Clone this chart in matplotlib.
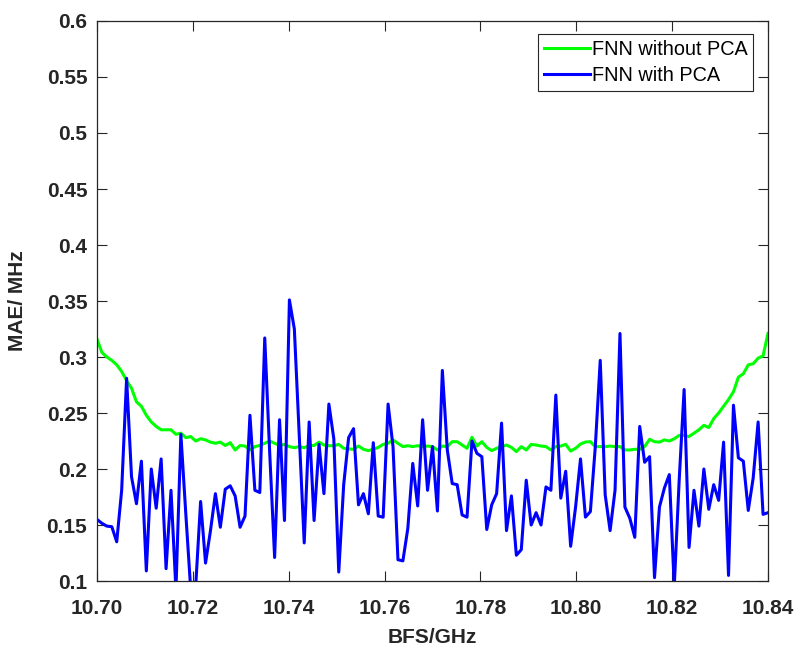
import numpy as np
import matplotlib
matplotlib.use("Agg")
import matplotlib.pyplot as plt

plt.rcParams["font.family"] = ["Liberation Sans", "DejaVu Sans"]

# === DATA ===
mae_no_pca = [
    0.316, 0.304, 0.300, 0.297, 0.293, 0.287, 0.279, 0.272, 0.260, 0.256, 0.248, 0.242,
    0.238, 0.235, 0.235, 0.235, 0.231, 0.232, 0.228, 0.229, 0.225, 0.227, 0.226,
    0.224, 0.223, 0.224, 0.221, 0.2235, 0.217, 0.221, 0.2205, 0.217, 0.220, 0.221, 0.223,
    0.225, 0.223, 0.221, 0.222, 0.220, 0.219, 0.220, 0.219, 0.221, 0.221, 0.224,
    0.2214, 0.2208, 0.2208, 0.222, 0.2185, 0.218, 0.2176, 0.2205, 0.2176, 0.2164, 0.2176,
    0.2193, 0.222, 0.223, 0.2259, 0.223, 0.220, 0.2208, 0.220, 0.2208, 0.220, 0.2205, 0.220,
    0.217, 0.2205, 0.220, 0.2244, 0.2244, 0.2214, 0.2185, 0.2283, 0.2205, 0.2244, 0.2193,
    0.2164, 0.2185, 0.220, 0.2214, 0.2193, 0.2155, 0.220, 0.217, 0.222, 0.2214, 0.2205,
    0.220, 0.217, 0.220, 0.2205, 0.222, 0.216, 0.2185, 0.2223, 0.2241, 0.2244, 0.220,
    0.220, 0.220, 0.2205, 0.220, 0.220, 0.217, 0.217, 0.2176, 0.2176, 0.220, 0.2265, 0.2244,
    0.224, 0.226, 0.225, 0.227, 0.230, 0.230, 0.229, 0.232, 0.235, 0.239, 0.237, 0.245,
    0.250, 0.256, 0.262, 0.269, 0.282, 0.285, 0.293, 0.294, 0.299, 0.301, 0.321,
]
mae_pca = [
    0.155, 0.1515, 0.149, 0.1485, 0.135, 0.181, 0.281, 0.193, 0.169, 0.207, 0.109, 0.200,
    0.165, 0.209, 0.111, 0.181, 0.092, 0.231, 0.160, 0.092, 0.095, 0.171, 0.116,
    0.145, 0.178, 0.148, 0.182, 0.185, 0.176, 0.148, 0.158, 0.248, 0.181, 0.179, 0.317,
    0.215, 0.121, 0.244, 0.154, 0.351, 0.325, 0.229, 0.134, 0.242, 0.154, 0.222,
    0.178, 0.258, 0.227, 0.108, 0.186, 0.228, 0.236, 0.168, 0.178, 0.160, 0.2235, 0.158,
    0.157, 0.258, 0.220, 0.119, 0.118, 0.147, 0.205, 0.167, 0.244, 0.181, 0.220,
    0.1625, 0.288, 0.217, 0.187, 0.186, 0.159, 0.157, 0.225, 0.214, 0.211, 0.146, 0.168,
    0.178, 0.241, 0.145, 0.176, 0.123, 0.128, 0.190, 0.150, 0.161, 0.150,
    0.184, 0.181, 0.266, 0.174, 0.198, 0.131, 0.166, 0.209, 0.157, 0.162, 0.220, 0.297,
    0.177, 0.145, 0.181, 0.321, 0.166, 0.156, 0.139, 0.238, 0.206, 0.211, 0.103,
    0.166, 0.183, 0.195, 0.095, 0.190, 0.271, 0.130, 0.181, 0.149, 0.200, 0.164, 0.186,
    0.172, 0.224, 0.105, 0.257, 0.210, 0.207, 0.163, 0.192, 0.242, 0.1595, 0.161,
]
bfs = np.linspace(10.70, 10.84, len(mae_pca))
x_ticks = [10.70, 10.72, 10.74, 10.76, 10.78, 10.80, 10.82, 10.84]
y_ticks = [0.1, 0.15, 0.2, 0.25, 0.3, 0.35, 0.4, 0.45, 0.5, 0.55, 0.6]

DARK = "#262626"

fig = plt.figure(figsize=(7.97, 6.46), dpi=100)
ax = fig.add_axes([0.1217, 0.1006, 0.8419, 0.8669])

ax.plot(bfs, mae_no_pca, color="#00FF00", linewidth=2.2, label="FNN without PCA")
ax.plot(bfs, mae_pca, color="#0000FF", linewidth=2.2, label="FNN with PCA")

ax.set_xlim(10.70, 10.84)
ax.set_ylim(0.1, 0.6)
ax.set_xticks(x_ticks)
ax.set_xticklabels([f"{t:.2f}" for t in x_ticks])
ax.set_yticks(y_ticks)
ax.set_yticklabels([f"{t:g}" for t in y_ticks])

ax.tick_params(direction="in", length=7, width=0.8, top=True, right=True,
               colors=DARK, labelsize=15)
ax.tick_params(axis="x", pad=13)
ax.tick_params(axis="y", pad=7)
for lab in ax.get_xticklabels() + ax.get_yticklabels():
    lab.set_fontweight("bold")
for sp in ax.spines.values():
    sp.set_color(DARK)
    sp.set_linewidth(0.9)

ax.set_xlabel("BFS/GHz", fontsize=15, fontweight="bold", color=DARK, labelpad=7)
ax.set_ylabel("MAE/ MHz", fontsize=15, fontweight="bold", color=DARK, labelpad=14)

leg = ax.legend(loc="upper right", bbox_to_anchor=(0.978, 0.977), fontsize=14.3,
                frameon=True, fancybox=False, framealpha=1, edgecolor=DARK,
                handlelength=2.3, handletextpad=0.08, borderpad=0.3,
                labelspacing=0.35, borderaxespad=0)
leg.get_frame().set_linewidth(0.8)

fig.savefig("out.png", dpi=100)
